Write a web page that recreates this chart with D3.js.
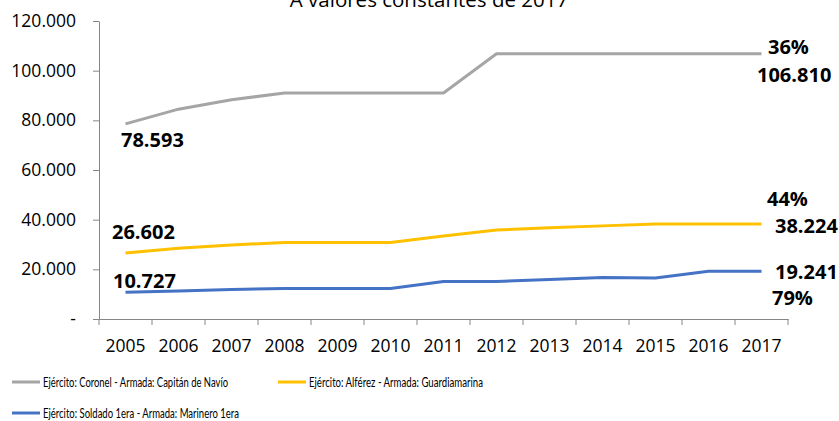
<!DOCTYPE html>
<html>
<head>
<meta charset="utf-8">
<script src="https://cdn.jsdelivr.net/npm/d3@7"></script>
<style>
  body { margin: 0; background: #fff; }
  text { font-family: "Open Sans", sans-serif; fill: #000; }
</style>
</head>
<body>
<div id="chart"></div>
<script>
const years = ["2005","2006","2007","2008","2009","2010","2011","2012","2013","2014","2015","2016","2017"];
const coronel = [78593, 84500, 88300, 91000, 91000, 91000, 91000, 106810, 106810, 106810, 106810, 106810, 106810];
const alferez = [26602, 28500, 29800, 30800, 30800, 30800, 33400, 35800, 36700, 37500, 38224, 38224, 38224];
const soldado = [10727, 11300, 11900, 12300, 12300, 12300, 15100, 15100, 15900, 16700, 16500, 19241, 19241];
const yTicks = [0, 20000, 40000, 60000, 80000, 100000, 120000];
const seriesNames = [
    "Ejército: Coronel - Armada: Capitán de Navío",
    "Ejército: Alférez - Armada: Guardiamarina",
    "Ejército: Soldado 1era - Armada: Marinero 1era"
];
const colors = ["#A5A5A5", "#FFC000", "#4472C4"];
const growth = ["36%", "44%", "79%"];

const W = 839, H = 421;
const margin = { top: 21, left: 99, right: 51, bottom: 102 };
const width = W - margin.left - margin.right,
      height = H - margin.top - margin.bottom;

const fmt = v => v === 0 ? "-" : d3.format(",")(v).replace(/,/g, ".");

const svg = d3.select("#chart").append("svg")
    .attr("width", W).attr("height", H);

svg.append("text")
    .attr("x", 429).attr("y", 7)
    .attr("text-anchor", "middle")
    .style("font-size", "20.5px")
    .text("A valores constantes de 2017");

const g = svg.append("g").attr("transform", "translate(" + margin.left + "," + margin.top + ")");

let x = d3.scaleBand().domain(years).range([0, width]).padding(0);
let y = d3.scaleLinear().domain([0, 120000]).range([height, 0]);

// y axis
let yAxis = g.append("g")
    .call(d3.axisLeft(y).tickValues(yTicks).tickFormat(fmt).tickSize(6).tickSizeOuter(0));
yAxis.select(".domain").attr("stroke", "#868686");
yAxis.selectAll(".tick line").attr("stroke", "#868686");
yAxis.selectAll(".tick text")
    .attr("x", -23)
    .style("font-size", "17.5px")
    .style("font-family", "'Open Sans', sans-serif");

// x axis
let xAxis = g.append("g")
    .attr("transform", "translate(0," + height + ")")
    .call(d3.axisBottom(x).tickSize(0).tickSizeOuter(0));
xAxis.select(".domain").attr("stroke", "#868686");
xAxis.selectAll(".tick text")
    .attr("y", 33).attr("dy", 0)
    .style("font-size", "17.5px")
    .style("font-family", "'Open Sans', sans-serif");

// tick marks on band boundaries
g.append("g")
    .attr("transform", "translate(0," + height + ")")
    .selectAll("line")
    .data(years.concat(["end"]))
    .join("line")
    .attr("x1", d => d === "end" ? width : x(d))
    .attr("x2", d => d === "end" ? width : x(d))
    .attr("y1", 0).attr("y2", 6)
    .attr("stroke", "#868686");

const cx = d => x(d) + x.bandwidth() / 2;
const allSeries = [coronel, alferez, soldado];

let line = d3.line().x((d, i) => cx(years[i])).y(d => y(d));

allSeries.forEach((s, k) => {
    g.append("path")
        .datum(s)
        .attr("fill", "none")
        .attr("stroke", colors[k])
        .attr("stroke-width", 3)
        .attr("d", line);
});

// data labels
const last = years.length - 1;
const labels = [
    { s: 0, i: 0, txt: fmt(coronel[0]), dx: -4.5, dy: 16 },
    { s: 0, i: last, txt: fmt(coronel[last]), dx: -4.5, dy: 21 },
    { s: 0, i: last, txt: growth[0], dx: 6.5, dy: -7 },
    { s: 1, i: 0, txt: fmt(alferez[0]), dx: -13.5, dy: -21 },
    { s: 1, i: last, txt: fmt(alferez[last]), dx: 13.5, dy: 1 },
    { s: 1, i: last, txt: growth[1], dx: 5.5, dy: -26 },
    { s: 2, i: 0, txt: fmt(soldado[0]), dx: -12.5, dy: -12 },
    { s: 2, i: last, txt: fmt(soldado[last]), dx: 13.5, dy: 0 },
    { s: 2, i: last, txt: growth[2], dx: 10.5, dy: 26 }
];

g.selectAll(".dlabel")
    .data(labels)
    .join("text")
    .attr("class", "dlabel")
    .attr("x", d => cx(years[d.i]) + d.dx)
    .attr("y", d => y(allSeries[d.s][d.i]) + d.dy)
    .attr("dominant-baseline", "central")
    .style("font-size", "20px")
    .style("font-weight", "bold")
    .text(d => d.txt);

// legend (Calibri-like narrow text, squeezed to the original widths)
const legendPos = [[12, 382], [278, 382], [12, 413]];
const legendWidths = [185, 174, 196];
const leg = svg.append("g");
seriesNames.forEach((n, k) => {
    let [lx, ly] = legendPos[k];
    leg.append("line")
        .attr("x1", lx).attr("x2", lx + 28)
        .attr("y1", ly).attr("y2", ly)
        .attr("stroke", colors[k]).attr("stroke-width", 3);
    leg.append("text")
        .attr("x", lx + 31).attr("y", ly)
        .attr("dominant-baseline", "central")
        .attr("textLength", legendWidths[k])
        .attr("lengthAdjust", "spacingAndGlyphs")
        .style("font-family", "Lato, sans-serif")
        .style("font-size", "12.5px")
        .text(n);
});
</script>
</body>
</html>
